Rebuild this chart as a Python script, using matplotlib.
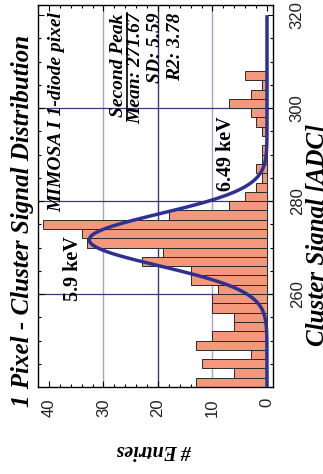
import numpy as np
import matplotlib
matplotlib.use("Agg")
import matplotlib.pyplot as plt
from matplotlib.ticker import MultipleLocator
from matplotlib.lines import Line2D

# Histogram of single-pixel cluster signal (2 ADC bins, lower edges)
adc_bin_low = [240, 242, 244, 246, 248, 250, 252, 254, 256, 258,
               260, 262, 264, 266, 268, 270, 272, 274, 276, 278,
               280, 282, 284, 286, 288, 290, 292, 294, 296, 298,
               300, 302, 304, 306]
entries = [13, 6, 12, 3, 13, 10, 6, 6, 10, 10,
           9, 14, 14, 23, 19, 33, 34, 41, 18, 7,
           4, 2, 1, 2, 1, 1, 0, 1, 2, 3,
           7, 3, 1, 4]
bin_width = 2

# Gaussian fit of the peak
fit_mean = 271.67
fit_sd = 5.59
fit_amp = 32.6
fit_r2 = 3.78

entry_ticks = [0, 10, 20, 30, 40]
adc_ticks = [260, 280, 300, 320]

serif = "Liberation Serif"
sans = "Liberation Sans"

bar_color = "#f4987b"
curve_color = "#2e3192"
grid_dark = "#3a3a7a"
grid_light = "#a4a4c4"

fig = plt.figure(figsize=(3.23, 4.74), dpi=100)
ax = fig.add_axes([0.1176, 0.1835, 0.7276, 0.806])

# grid
for v, c in [(10, grid_light), (20, grid_dark), (30, grid_light)]:
    ax.axvline(v, color=c, lw=1.0, zorder=1)
for h in [260, 280, 300]:
    ax.axhline(h, color=grid_dark, lw=0.9, zorder=1)

ax.barh(adc_bin_low, entries, height=bin_width, align="edge",
        color=bar_color, edgecolor="#2a2a2a", linewidth=0.7, zorder=2)

adc = np.linspace(240, 320, 400)
fit = fit_amp * np.exp(-0.5 * ((adc - fit_mean) / fit_sd) ** 2)
ax.plot(fit, adc, color=curve_color, lw=2.5, zorder=3, solid_capstyle="butt")

ax.set_xlim(42.0, -1.1)
ax.set_ylim(240, 322.2)

ax.yaxis.tick_right()
ax.set_xticks(entry_ticks)
ax.set_yticks(adc_ticks)
ax.xaxis.set_minor_locator(MultipleLocator(2))
ax.yaxis.set_minor_locator(MultipleLocator(5))
ax.tick_params(which="both", direction="in", top=True, bottom=True,
               left=True, right=True, width=0.8, color="black")
ax.tick_params(which="major", length=4)
ax.tick_params(which="minor", length=2.5)
ax.tick_params(axis="x", pad=8)
ax.tick_params(axis="y", pad=12)
for lab in ax.get_xticklabels():
    lab.set_rotation(90)
    lab.set_fontfamily(sans)
    lab.set_fontsize(12)
    lab.set_color("#222222")
for lab in ax.get_yticklabels():
    lab.set_rotation(90)
    lab.set_fontfamily(sans)
    lab.set_fontsize(12)
    lab.set_va("center")
    lab.set_color("#222222")
for s in ax.spines.values():
    s.set_linewidth(1.0)

bi = dict(family=serif, fontweight="bold", fontstyle="italic")
b = dict(family=serif, fontweight="bold")

ax.text(38.6, 299.1, "MIMOSA I 1-diode pixel", rotation=90,
        ha="center", va="center", fontsize=14, **bi)
peak_label = ax.text(27.3, 320.4, "Second Peak", rotation=90,
                     ha="center", va="top", fontsize=14, **bi)
ax.text(24.0, 320.6, f"Mean: {fit_mean:.2f}", rotation=90,
        ha="center", va="top", fontsize=14, **bi)
ax.text(20.4, 320.6, f"SD: {fit_sd:.2f}", rotation=90,
        ha="center", va="top", fontsize=14, **bi)
ax.text(16.7, 320.6, f"R2: {fit_r2:.2f}", rotation=90,
        ha="center", va="top", fontsize=14, **bi)
ax.text(35.6, 265.4, "5.9 keV", rotation=90, ha="center", va="center",
        fontsize=14.5, **b)
ax.text(7.5, 290.2, "6.49 keV", rotation=90, ha="center", va="center",
        fontsize=14.5, **b)

fig.text(0.071, 0.534, "1 Pixel - Cluster Signal Distribution", rotation=90,
         ha="center", va="center", fontsize=18, **bi)
fig.text(0.948, 0.504, "Cluster Signal [ADC]", rotation=90,
         ha="left", va="center", fontsize=18, **bi)
fig.text(0.477, 0.051, "# Entries", rotation=180,
         ha="center", va="center", fontsize=14.5, **bi)

# underline the "Second Peak" heading (rotated text: line on its right side)
fig.canvas.draw()
bb = peak_label.get_window_extent()
W, H = fig.bbox.width, fig.bbox.height
ux = (bb.x1 + 0.5) / W
fig.add_artist(Line2D([ux, ux], [bb.y0 / H, bb.y1 / H], transform=fig.transFigure,
                      color="black", lw=1.2))

fig.savefig("out.png", dpi=100, facecolor="white")
